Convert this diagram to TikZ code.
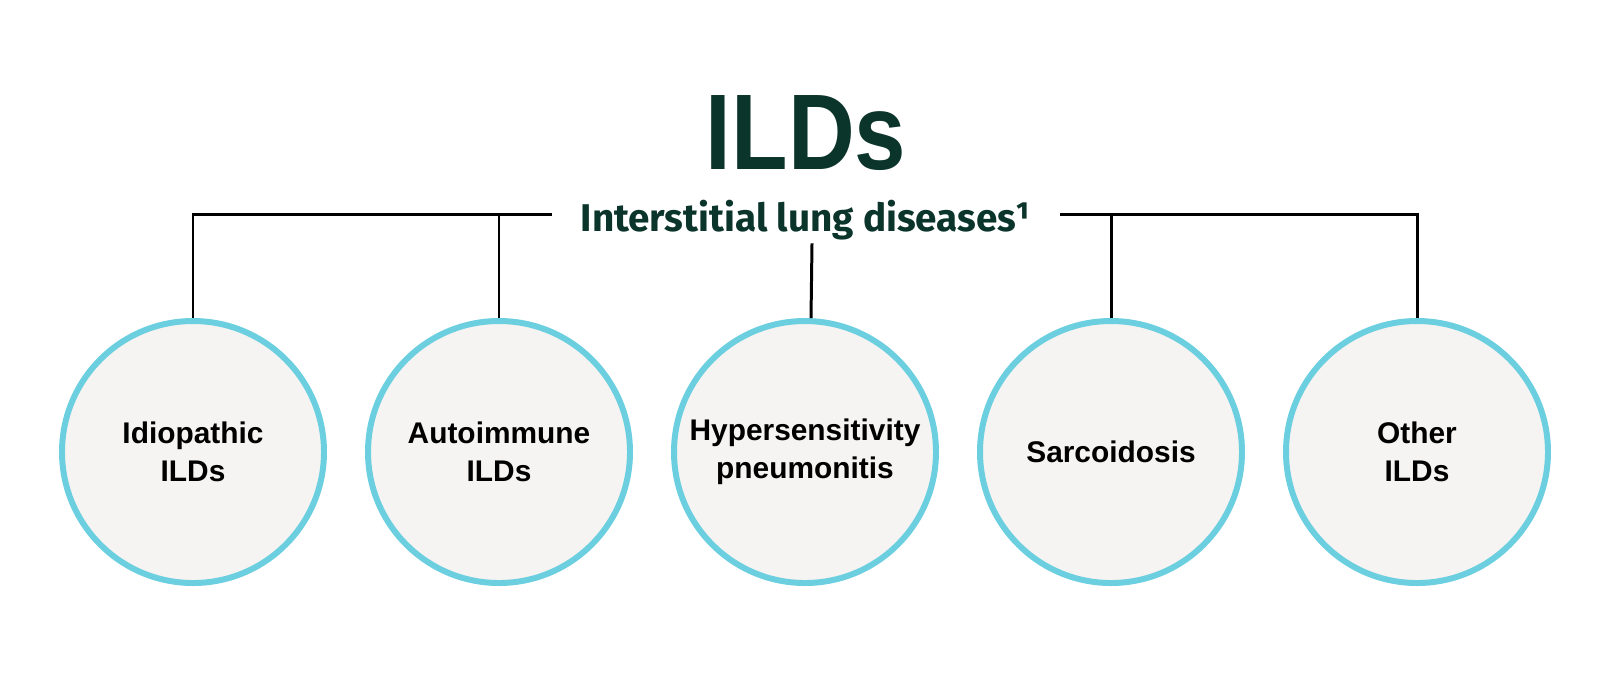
\documentclass[tikz,border=0pt]{standalone}
\usepackage{fontspec}
\usepackage{graphicx}
\setmainfont{Liberation Sans}
\newfontfamily\subfont{Fira Sans}
\usetikzlibrary{positioning}
\definecolor{ildgreen}{RGB}{11,52,43}
\definecolor{ildcyan}{RGB}{108,207,224}
\definecolor{ildfill}{RGB}{245,244,242}

\begin{document}
\begin{tikzpicture}[x=0.1mm, y=-0.1mm,
        main/.style = {draw=ildcyan, fill=ildfill, circle, line width=1.7pt, minimum size=26.2mm, inner sep=0pt, align=center, font=\fontsize{8.5}{10.8}\selectfont\bfseries},
        link/.style = {draw, line width=0.85pt},
        node distance=30.6mm, on grid]
        \useasboundingbox (0,0) rectangle (1610,691);

        \node[ildgreen, anchor=base, font=\fontsize{30.6}{32}\selectfont\bfseries](title) at (806,169) {\scalebox{0.86}[1]{ILDs}};
        \node[ildgreen, anchor=base, inner xsep=2.8mm, inner ysep=0.3mm, font=\subfont\fontsize{11}{13}\selectfont\bfseries](sub) at (806,231) {Interstitial lung diseases¹};

        \node[main](1) at (193,452) {Idiopathic\\ILDs};
        \node[main](2)[right=of 1]{Autoimmune\\ILDs};
        \node[main](3)[right=of 2]{Hypersensitivity\\pneumonitis};
        \node[main](4)[right=of 3]{Sarcoidosis};
        \node[main](5)[right=of 4]{Other\\ILDs};

        \coordinate (left) at ([yshift=1.5pt]sub.west);
        \coordinate (right) at ([yshift=1.5pt]sub.east);

        \draw[link] (1.north) |- (left);
        \draw[link] (2.north) -- (2.north |- left);
        \draw[link] (5.north) |- (right);
        \draw[link] (4.north) -- (4.north |- right);
        \draw[link] ([xshift=0.6mm]sub.south) -- ([xshift=0.6mm]3.north);
\end{tikzpicture}
\end{document}
